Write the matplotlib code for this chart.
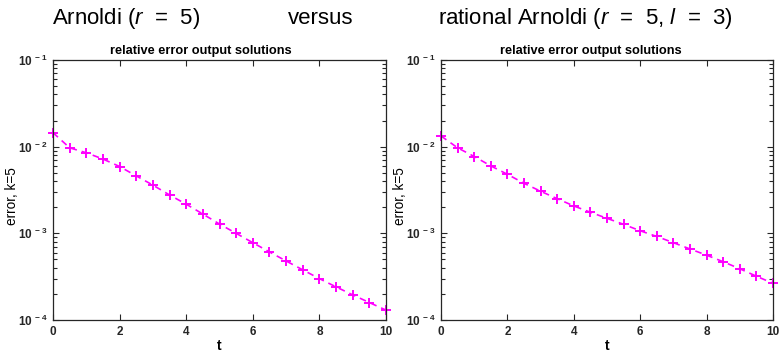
import numpy as np
import matplotlib
matplotlib.use("Agg")
import matplotlib.pyplot as plt
from matplotlib.ticker import LogLocator, NullFormatter

plt.rcParams['font.family'] = ['Liberation Sans', 'DejaVu Sans']
plt.rcParams['mathtext.fontset'] = 'custom'
plt.rcParams['mathtext.rm'] = 'Liberation Sans'
plt.rcParams['mathtext.it'] = 'Liberation Sans:italic'
plt.rcParams['mathtext.bf'] = 'Liberation Sans:bold'

t = np.arange(0, 10.01, 0.5)
err_arnoldi = [0.0145, 0.0097, 0.0085, 0.0072, 0.0059, 0.0046, 0.0036, 0.00277, 0.00217,
               0.00167, 0.00128, 0.00100, 0.00078, 0.00061, 0.00048, 0.000379, 0.00030,
               0.000241, 0.000195, 0.000159, 0.000130]
err_rational = [0.0133, 0.0097, 0.0077, 0.0060, 0.0048, 0.00378, 0.00306, 0.00251, 0.00207,
                0.00175, 0.00149, 0.00127, 0.00107, 0.00092, 0.00078, 0.00066, 0.00056,
                0.00047, 0.00039, 0.00032, 0.000265]

W, H = 782, 352
fig = plt.figure(figsize=(W/100, H/100), dpi=100)

def ax_at(x0, x1, y0, y1):
    return fig.add_axes([x0/W, 1 - y1/H, (x1-x0)/W, (y1-y0)/H])

axes = [ax_at(53, 386, 60, 320), ax_at(441, 773, 60, 320)]
title_x = [(201 - 53) / 333, (591 - 441) / 332]
for ax, data, tx in zip(axes, [err_arnoldi, err_rational], title_x):
    ax.semilogy(t, data, color='#ff00ff', linestyle='--', dashes=(4, 3), marker='+',
                markersize=7, markeredgewidth=1.4, linewidth=1.2, clip_on=False)
    ax.set_xlim(0, 10)
    ax.set_ylim(1e-4, 1e-1)
    ax.set_xticks([0, 2, 4, 6, 8, 10])
    ax.set_yticks([1e-4, 1e-3, 1e-2, 1e-1])
    ax.set_yticklabels([r'$\mathbf{10^{\ -4}}$', r'$\mathbf{10^{\ -3}}$',
                        r'$\mathbf{10^{\ -2}}$', r'$\mathbf{10^{\ -1}}$'])
    ax.yaxis.set_minor_locator(LogLocator(base=10, subs=np.arange(2, 10), numticks=100))
    ax.yaxis.set_minor_formatter(NullFormatter())
    ax.tick_params(which='both', direction='in', top=True, right=True, labelsize=8.5,
                   colors='#262626', width=0.8)
    ax.tick_params(which='major', length=4, pad=4)
    ax.tick_params(which='minor', length=3)
    for lab in ax.get_xticklabels() + ax.get_yticklabels():
        lab.set_fontweight('bold')
    for s in ax.spines.values():
        s.set_color('#262626')
        s.set_linewidth(0.9)
    ttl = ax.set_title('relative error output solutions', fontsize=9.2, fontweight='bold', pad=4)
    ttl.set_x(tx)
    ax.set_xlabel('t', fontsize=10, fontweight='bold', labelpad=1)
    ax.set_ylabel('error, k=5', fontsize=9.8)
    ax.yaxis.set_label_coords((19 - 53) / 333, (320 - 196) / 260)

fs = 16
yb = 1 - 24/H
fig.text(52/W, yb, r'Arnoldi ($r$  =  5)', fontsize=fs, ha='left', va='baseline')
fig.text(288/W, yb, 'versus', fontsize=fs, ha='left', va='baseline')
fig.text(438/W, yb, r'rational Arnoldi ($r$  =  5, $l$  =  3)', fontsize=fs, ha='left', va='baseline')

fig.savefig('out.png', dpi=100)
